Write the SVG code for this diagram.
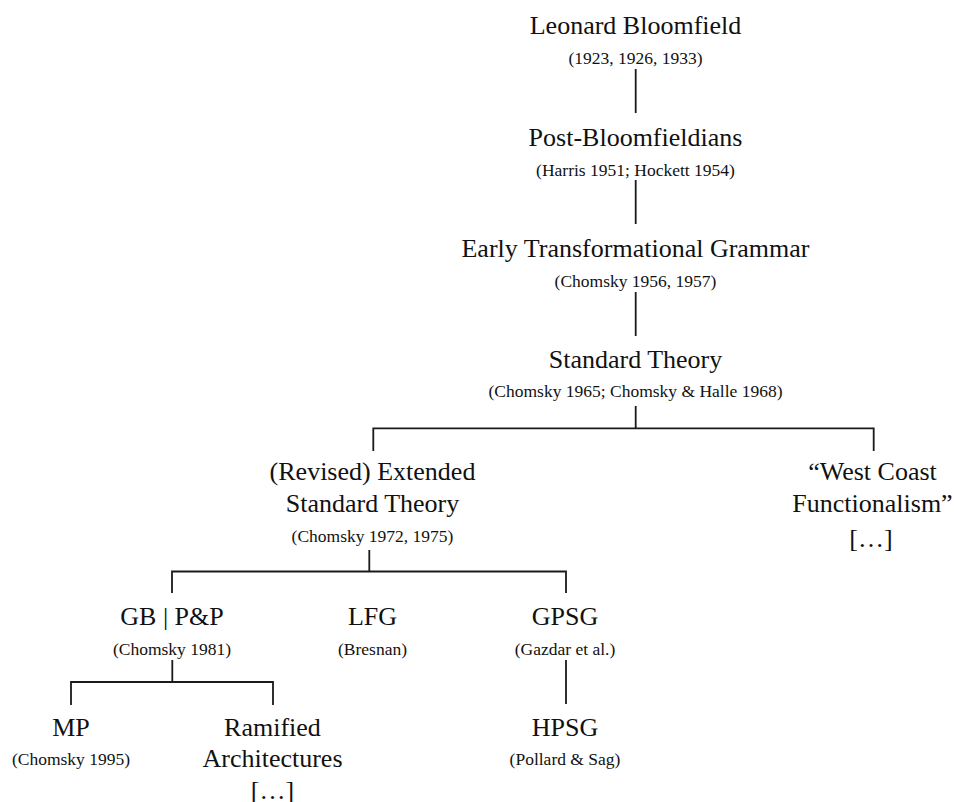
<svg xmlns="http://www.w3.org/2000/svg" width="954" height="802" viewBox="0 0 954 802">
<style>
text{font-family:"Liberation Serif","Times New Roman",serif;fill:#111;text-anchor:middle}
.h{font-size:26px}
.s{font-size:17.5px}
.c{stroke:#1a1a1a;stroke-width:1.8;fill:none;stroke-linecap:butt}
</style>
<rect width="954" height="802" fill="#fff"/>
<g id="connectors" class="c">
<path d="M635.7 69V113"/>
<path d="M635.7 180V224"/>
<path d="M635.7 292V336"/>
<path d="M635.7 406V428.3M373.3 451V428.3H873.7V451"/>
<path d="M369.3 550V571.5M172 593V571.5H566V593"/>
<path d="M566 660V704"/>
<path d="M172.3 660V682M71 705V682H273V705"/>
</g>
<g id="bloomfield"><text class="h" x="635.5" y="34">Leonard Bloomfield</text><text class="s" x="635.5" y="64">(1923, 1926, 1933)</text></g>
<g id="post-bloomfieldians"><text class="h" x="635.5" y="146">Post-Bloomfieldians</text><text class="s" x="635.5" y="176">(Harris 1951; Hockett 1954)</text></g>
<g id="early-tg"><text class="h" x="635.5" y="257">Early Transformational Grammar</text><text class="s" x="635.5" y="287">(Chomsky 1956, 1957)</text></g>
<g id="standard-theory"><text class="h" x="635.5" y="368">Standard Theory</text><text class="s" x="635.5" y="397">(Chomsky 1965; Chomsky &amp; Halle 1968)</text></g>
<g id="rest"><text class="h" x="372.5" y="480">(Revised) Extended</text><text class="h" x="372.5" y="512">Standard Theory</text><text class="s" x="372.5" y="542">(Chomsky 1972, 1975)</text></g>
<g id="west-coast"><text class="h" x="872.5" y="480">“West Coast</text><text class="h" x="872.5" y="512">Functionalism”</text><text class="h" x="871" y="547">[…]</text></g>
<g id="gb-pp"><text class="h" x="172" y="625">GB | P&amp;P</text><text class="s" x="172" y="655">(Chomsky 1981)</text></g>
<g id="lfg"><text class="h" x="372.5" y="625">LFG</text><text class="s" x="372.5" y="655">(Bresnan)</text></g>
<g id="gpsg"><text class="h" x="565" y="625">GPSG</text><text class="s" x="565" y="655">(Gazdar et al.)</text></g>
<g id="hpsg"><text class="h" x="565" y="736">HPSG</text><text class="s" x="565" y="765">(Pollard &amp; Sag)</text></g>
<g id="mp"><text class="h" x="71" y="736">MP</text><text class="s" x="71" y="765">(Chomsky 1995)</text></g>
<g id="ramified"><text class="h" x="272.5" y="736">Ramified</text><text class="h" x="272.5" y="767">Architectures</text><text class="h" x="272.5" y="799">[…]</text></g>
</svg>
